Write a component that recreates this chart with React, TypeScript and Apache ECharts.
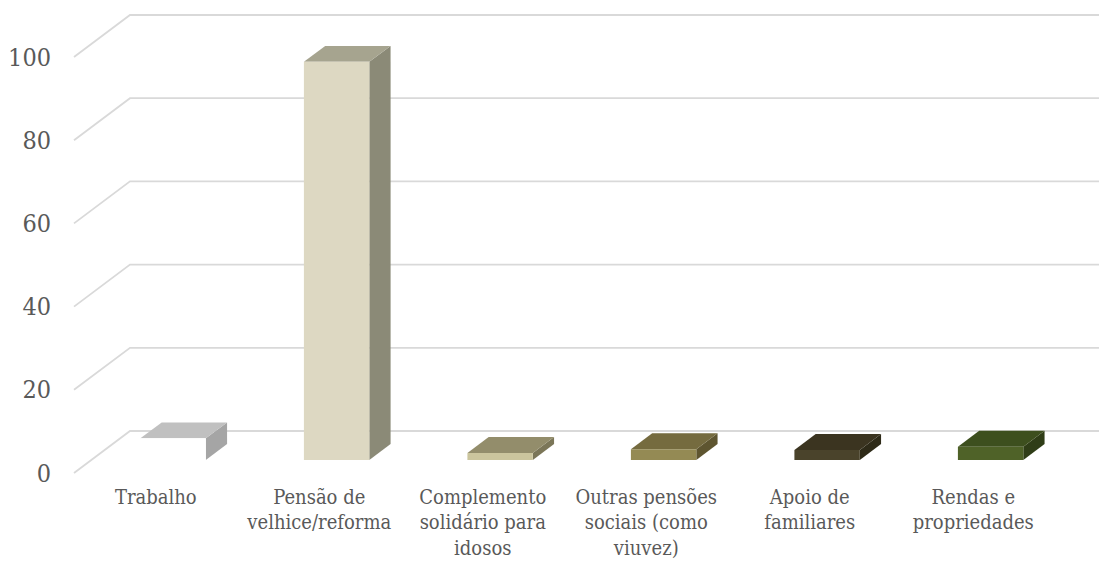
import React, { useEffect, useRef } from "react";
import * as echarts from "echarts";

const categories = [
  "Trabalho",
  "Pensão de velhice/reforma",
  "Complemento solidário para idosos",
  "Outras pensões sociais (como viuvez)",
  "Apoio de familiares",
  "Rendas e propriedades",
];
const categoryLabels = [
  "Trabalho",
  "Pensão de\nvelhice/reforma",
  "Complemento\nsolidário para\nidosos",
  "Outras pensões\nsociais (como\nviuvez)",
  "Apoio de\nfamiliares",
  "Rendas e\npropriedades",
];
const values = [5.2, 95.7, 1.7, 2.6, 2.4, 3.2];
const yTicks = [0, 20, 40, 60, 80, 100];

const frontColors = ["#ffffff", "#ddd8c2", "#cbc59d", "#948a54", "#4a432b", "#4f6228"];
const topColors = ["#c0c0c0", "#a6a48f", "#938d6b", "#756b3f", "#3b3420", "#3d4f1e"];
const sideColors = ["#a5a5a5", "#8b8a77", "#7b7658", "#5e5530", "#2e2a18", "#2f3d17"];

const DEPTH_X = 56;
const DEPTH_Y = -42;
const F1 = 0.31;
const F2 = 0.69;

export default function App() {
  const ref = useRef<HTMLDivElement>(null);
  useEffect(() => {
    if (!ref.current) return;
    const chart = echarts.init(ref.current, null, { renderer: "svg" });
    const serif = "'DejaVu Serif Condensed', 'DejaVu Serif', serif";
    chart.setOption({
      animation: false,
      backgroundColor: "#ffffff",
      textStyle: { fontFamily: serif },
      grid: { left: 74, right: 44, top: 57, bottom: 89, outerBoundsMode: "none", containLabel: false },
      xAxis: {
        type: "category",
        data: categories,
        axisLine: { show: false },
        axisTick: { show: false },
        splitLine: { show: false },
        axisLabel: {
          interval: 0,
          margin: 11,
          color: "#595959",
          fontFamily: serif,
          fontSize: 20,
          lineHeight: 25.5,
          align: "center",
          formatter: (_v: string, i: number) => categoryLabels[i],
        },
      },
      yAxis: {
        type: "value",
        min: 0,
        max: 100,
        interval: 20,
        axisLine: { show: false },
        axisTick: { show: false },
        splitLine: { show: false },
        axisLabel: {
          margin: 23,
          color: "#595959",
          fontFamily: serif,
          fontSize: 25,
        },
      },
      series: [
        {
          type: "custom",
          z: 1,
          silent: true,
          data: yTicks.map((t) => [0, t]),
          encode: { x: 0, y: 1 },
          renderItem: (params: any, api: any) => {
            const v = api.value(1);
            const cs = params.coordSys;
            const y = api.coord([0, v])[1];
            const x0 = cs.x;
            const bx = x0 + DEPTH_X;
            const by = y + DEPTH_Y;
            return {
              type: "polyline",
              shape: { points: [[x0, y], [bx, by], [1099, by]] },
              style: { stroke: "#d9d9d9", lineWidth: 1.8, fill: null },
            };
          },
        },
        {
          type: "custom",
          z: 2,
          data: values.map((v, i) => [i, v]),
          encode: { x: 0, y: 1 },
          renderItem: (params: any, api: any) => {
            const idx = api.value(0);
            const v = api.value(1);
            const base = api.coord([idx, 0]);
            const top = api.coord([idx, v]);
            const band = api.size([1, 0])[0];
            const hw = band * 0.2;
            const fx = base[0] + F1 * DEPTH_X;
            const fyB = base[1] + F1 * DEPTH_Y;
            const fyT = top[1] + F1 * DEPTH_Y;
            const dx = (F2 - F1) * DEPTH_X;
            const dy = (F2 - F1) * DEPTH_Y;
            const L = fx - hw;
            const R = fx + hw;
            const i = params.dataIndex;
            return {
              type: "group",
              children: [
                {
                  type: "polygon",
                  shape: { points: [[R, fyT], [R + dx, fyT + dy], [R + dx, fyB + dy], [R, fyB]] },
                  style: { fill: sideColors[i] },
                },
                {
                  type: "polygon",
                  shape: { points: [[L, fyT], [L + dx, fyT + dy], [R + dx, fyT + dy], [R, fyT]] },
                  style: { fill: topColors[i] },
                },
                {
                  type: "rect",
                  shape: { x: L, y: fyT, width: R - L, height: fyB - fyT },
                  style: { fill: frontColors[i] },
                },
              ],
            };
          },
        },
      ],
    });
    return () => chart.dispose();
  }, []);
  return (
    <div
      ref={ref}
      style={{ position: "fixed", left: 0, top: 0, width: 1099, height: 562, background: "#fff" }}
    />
  );
}
